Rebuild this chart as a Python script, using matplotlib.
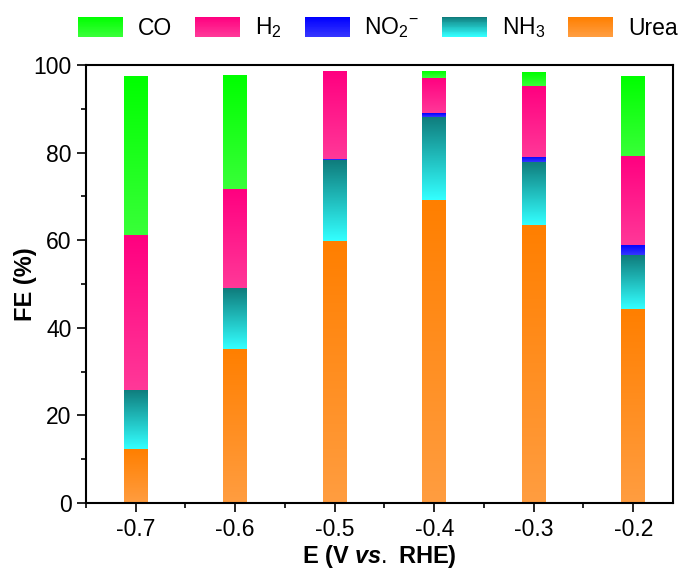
import numpy as np
import matplotlib
matplotlib.use("Agg")
import matplotlib.pyplot as plt
from matplotlib.patches import Rectangle, Patch
from matplotlib.legend_handler import HandlerBase
from matplotlib.colors import to_rgb

potentials = [-0.7, -0.6, -0.5, -0.4, -0.3, -0.2]
urea = [12.3, 35.2, 59.8, 69.2, 63.5, 44.4]
nh3 = [13.5, 13.8, 18.4, 19.0, 14.4, 12.2]
no2 = [0.0, 0.0, 0.4, 0.8, 1.2, 2.3]
h2 = [35.4, 22.7, 19.9, 8.0, 16.1, 20.4]
co = [36.1, 26.0, 0.0, 1.4, 3.1, 18.2]

# stack order bottom -> top, with (top colour, bottom colour) of the gradient
series = [
    ("Urea", urea, "#ff7f00", "#ff9d40"),
    ("NH$_3$", nh3, "#0f7c7c", "#33ffff"),
    ("NO$_2$$^{-}$", no2, "#0000ff", "#3535ff"),
    ("H$_2$", h2, "#ff0080", "#ff3898"),
    ("CO", co, "#00ff00", "#38ff38"),
]
legend_order = ["CO", "H$_2$", "NO$_2$$^{-}$", "NH$_3$", "Urea"]

plt.rcParams["font.family"] = ["Liberation Sans", "DejaVu Sans"]
plt.rcParams["mathtext.fontset"] = "custom"
plt.rcParams["mathtext.rm"] = "Liberation Sans"
plt.rcParams["mathtext.it"] = "Liberation Sans:italic:bold"
plt.rcParams["mathtext.bf"] = "Liberation Sans:bold"


def gradient(top, bottom, n=64):
    t = np.linspace(0, 1, n)[:, None]
    c = np.array(to_rgb(top)) * (1 - t) + np.array(to_rgb(bottom)) * t
    return c[:, None, :]


class GradientHandler(HandlerBase):
    def __init__(self, top, bottom):
        super().__init__()
        self.top = np.array(to_rgb(top))
        self.bottom = np.array(to_rgb(bottom))

    def create_artists(self, legend, orig_handle, xdescent, ydescent,
                       width, height, fontsize, trans):
        n = 24
        out = []
        for i in range(n):
            f = i / (n - 1)
            c = self.top * (1 - f) + self.bottom * f
            y0 = -ydescent + height * (1 - (i + 1) / n)
            out.append(Rectangle((-xdescent, y0), width, height / n * 1.05,
                                 facecolor=c, edgecolor="none", transform=trans))
        return out


fig = plt.figure(figsize=(6.84, 5.72), dpi=100)
ax = fig.add_axes([86 / 684, 1 - 503 / 572, 587 / 684, 438 / 572])

width = 0.024
bottoms = np.zeros(len(potentials))
for name, vals, top_c, bot_c in series:
    vals = np.asarray(vals)
    for x, b, v in zip(potentials, bottoms, vals):
        if v <= 0:
            continue
        ax.imshow(gradient(top_c, bot_c), extent=(x - width / 2, x + width / 2, b, b + v),
                  origin="upper", aspect="auto", interpolation="bilinear", zorder=2)
    bottoms = bottoms + vals

ax.set_xlim(-0.748, -0.16)
ax.set_ylim(0, 100)
ax.set_xticks(potentials)
ax.set_xticklabels(["%.1f" % p for p in potentials])
ax.set_xticks(np.arange(-0.75, -0.16, 0.1), minor=True)
ax.set_yticks(np.arange(0, 101, 20))
ax.set_yticks(np.arange(10, 100, 20), minor=True)
ax.tick_params(which="major", direction="out", length=6.5, width=1.2, labelsize=16.5,
               pad=4, top=False, right=False)
ax.tick_params(which="minor", direction="out", length=3.6, width=1.2,
               top=False, right=False)
for s in ax.spines.values():
    s.set_linewidth(1.5)

ax.set_xlabel(r"E (V $\it{vs.}$ RHE)", fontsize=17, fontweight="bold", labelpad=2)
ax.set_ylabel("FE (%)", fontsize=17, fontweight="bold", labelpad=-3)

handles = []
hmap = {}
lookup = {s[0]: s for s in series}
for name in legend_order:
    _, _, top_c, bot_c = lookup[name]
    h = Patch(facecolor=top_c, label=name)
    handles.append(h)
    hmap[h] = GradientHandler(top_c, bot_c)

fig.legend(handles=handles, handler_map=hmap, loc="center", ncol=5, frameon=False,
           bbox_to_anchor=(378 / 684, 1 - 28 / 572), fontsize=16.5,
           handlelength=1.96, handleheight=0.96, handletextpad=0.65,
           columnspacing=1.0, borderpad=0, borderaxespad=0)

fig.savefig("out.png", dpi=100)
